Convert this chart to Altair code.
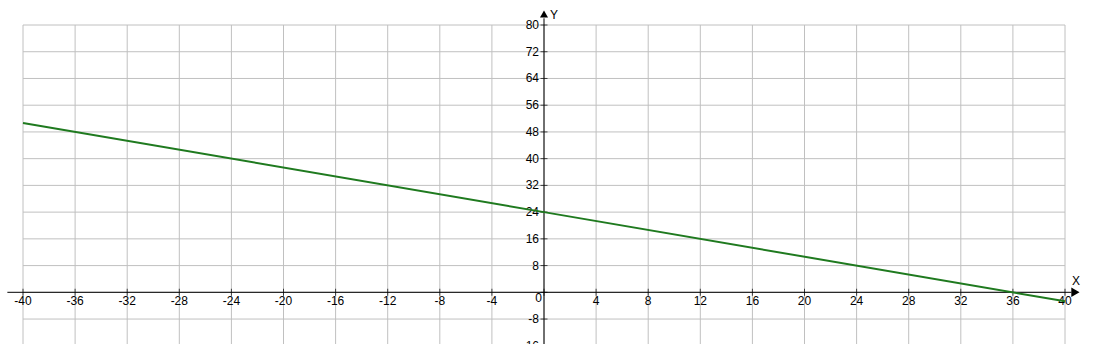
import altair as alt
import pandas as pd

# Line data (y = 24 - 2/3 x)
line_x = [-40, 0, 40]
line_y = [50.7, 24, -2.7]

# Tick labels
x_ticks = [-40, -36, -32, -28, -24, -20, -16, -12, -8, -4, 0, 4, 8, 12, 16, 20, 24, 28, 32, 36, 40]
y_ticks = [-16, -8, 0, 8, 16, 24, 32, 40, 48, 56, 64, 72, 80]

X_DOM = [-40, 40]
Y_DOM = [-15.47, 80]
FONT = "Liberation Sans"
FS = 12
GRID = "#c0c0c0"

xs = alt.Scale(domain=X_DOM, nice=False, zero=False)
ys = alt.Scale(domain=Y_DOM, nice=False, zero=False)

line_df = pd.DataFrame({"x": line_x, "y": line_y})
one = pd.DataFrame({"k": [0]})
xt_df = pd.DataFrame({"x": x_ticks, "y": [0] * len(x_ticks)})
yt_df = pd.DataFrame({"x": [0] * len(y_ticks), "y": y_ticks})
xl_df = xt_df[xt_df["x"] != 0].assign(lab=lambda d: d["x"].astype(str))
yl_df = yt_df[yt_df["y"] != 0].assign(lab=lambda d: d["y"].astype(str))
yg_df = yt_df[yt_df["y"] >= Y_DOM[0]]


def X(field):
    return alt.X(field, type="quantitative", scale=xs, axis=None)


def Y(field):
    return alt.Y(field, type="quantitative", scale=ys, axis=None)


def XD(v):
    return alt.XDatum(v, type="quantitative", scale=xs, axis=None)


def YD(v):
    return alt.YDatum(v, type="quantitative", scale=ys, axis=None)


grid_v = alt.Chart(xt_df).mark_rule(color=GRID, strokeWidth=1).encode(
    x=X("x"), y=YD(80), y2=alt.Y2Datum(-18))
grid_h = alt.Chart(yg_df).mark_rule(color=GRID, strokeWidth=1).encode(
    y=Y("y"), x=XD(-40), x2=alt.X2Datum(40))

line = alt.Chart(line_df).mark_line(color="#1f7a1f", strokeWidth=2).encode(
    x=X("x"), y=Y("y"))

x_axis_line = alt.Chart(one).mark_rule(color="black", strokeWidth=1).encode(
    x=XD(-41.2), x2=alt.X2Datum(40.5), y=YD(0))
y_axis_line = alt.Chart(one).mark_rule(color="black", strokeWidth=1).encode(
    x=XD(0), y=YD(-18), y2=alt.Y2Datum(82))

x_arrow = alt.Chart(one).mark_point(shape="triangle-right", filled=True, color="black",
                                    size=90, opacity=1).encode(x=XD(40.8), y=YD(0))
y_arrow = alt.Chart(one).mark_point(shape="triangle-up", filled=True, color="black",
                                    size=65, opacity=1).encode(x=XD(0), y=YD(83.3))

x_tick_marks = alt.Chart(xt_df).mark_tick(orient="vertical", size=7, thickness=1, color="black").encode(
    x=X("x"), y=Y("y"))
y_tick_marks = alt.Chart(yt_df).mark_tick(orient="horizontal", size=7, thickness=1, color="black").encode(
    x=X("x"), y=Y("y"))

x_labels = alt.Chart(xl_df).mark_text(align="center", baseline="top", dy=4, font=FONT,
                                      fontSize=FS, color="black").encode(
    x=X("x"), y=Y("y"), text="lab:N")
y_labels = alt.Chart(yl_df).mark_text(align="right", baseline="middle", dx=-5, font=FONT,
                                      fontSize=FS, color="black").encode(
    x=X("x"), y=Y("y"), text="lab:N")

zero_label = alt.Chart(one).mark_text(align="right", baseline="top", dx=-2, dy=1, font=FONT,
                                      fontSize=FS, color="black", text="0").encode(x=XD(0), y=YD(0))
x_name = alt.Chart(one).mark_text(align="center", baseline="middle", dy=-11, font=FONT,
                                  fontSize=FS, color="black", text="X").encode(x=XD(40.85), y=YD(0))
y_name = alt.Chart(one).mark_text(align="center", baseline="middle", dx=10, font=FONT,
                                  fontSize=FS, color="black", text="Y").encode(x=XD(0), y=YD(83.1))

chart = alt.layer(
    grid_v, grid_h,
    x_axis_line, y_axis_line, x_tick_marks, y_tick_marks,
    x_arrow, y_arrow, x_labels, y_labels, zero_label, x_name, y_name,
    line,
).properties(
    width=1042, height=319,
    autosize=alt.AutoSizeParams(type="none"),
    padding={"left": 23, "top": 25, "right": 34, "bottom": 0},
    background="white",
).configure_view(stroke=None)

chart.save("out.html", embed_options={"renderer": "svg", "actions": False})
